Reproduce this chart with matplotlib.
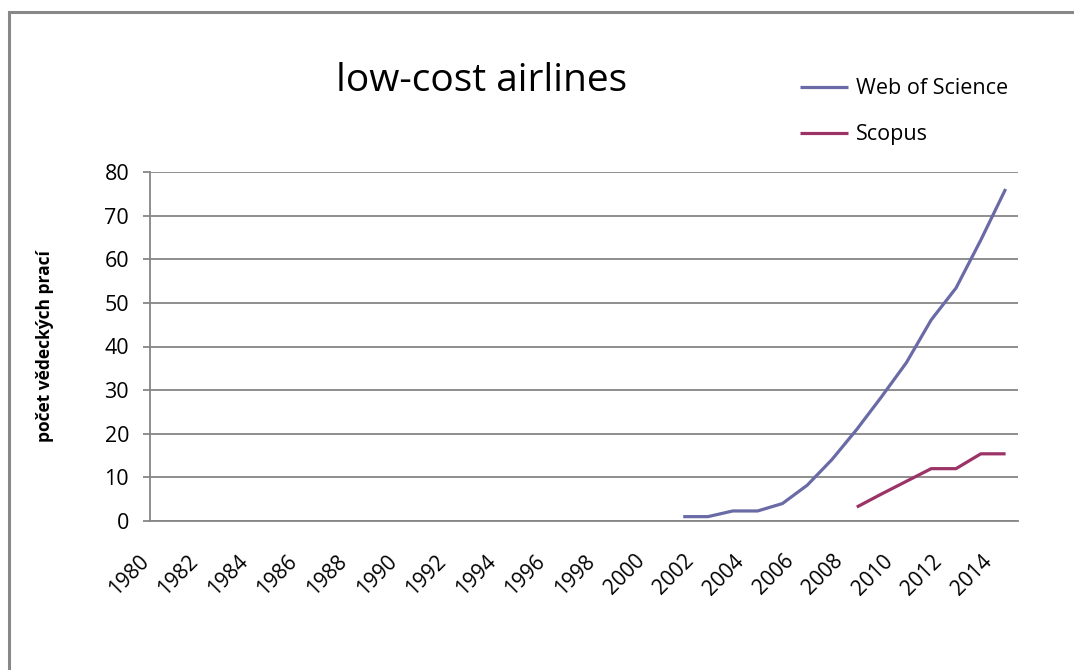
import matplotlib
matplotlib.use('Agg')
import matplotlib.pyplot as plt
import matplotlib.transforms as mtransforms
from matplotlib.patches import Rectangle
import numpy as np

plt.rcParams['font.family'] = ['Open Sans', 'DejaVu Sans']

# data
years = list(range(1980, 2015))
wos_years = list(range(2001, 2015))
wos = [1, 1, 2.3, 2.3, 4, 8.2, 14.1, 21, 28.5, 36.3, 46.1, 53.4, 64.4, 76.1]
scopus_years = list(range(2008, 2015))
scopus = [3.2, 6.2, 9.1, 12, 12, 15.4, 15.4]
tick_years = years[::2]

wos_col = '#6a6aa6'
sco_col = '#9b3366'
grid_col = '#868686'

fig = plt.figure(figsize=(10.74, 6.70), dpi=100)
fig.patches.append(Rectangle((9 / 1074, -0.1), 1.2, 0.1 + (670 - 12) / 670,
                             transform=fig.transFigure, fill=False,
                             edgecolor='#888888', linewidth=2.2))

ax = fig.add_axes([150 / 1074, (670 - 521) / 670, 868 / 1074, 349 / 670])
ax.plot(wos_years, wos, color=wos_col, lw=2.3, label='Web of Science', solid_capstyle='butt')
ax.plot(scopus_years, scopus, color=sco_col, lw=2.3, label='Scopus', solid_capstyle='butt')

ax.set_xlim(1979.5, 2014.5)
ax.set_ylim(0, 80)
ax.set_yticks(range(0, 81, 10))
ax.yaxis.grid(True, color=grid_col, lw=1.3)
ax.set_axisbelow(True)
for s in ['top', 'right']:
    ax.spines[s].set_visible(False)
for s in ['left', 'bottom']:
    ax.spines[s].set_color(grid_col)
    ax.spines[s].set_linewidth(1.3)
ax.tick_params(axis='y', length=5, width=1.3, color=grid_col, labelsize=15.5, pad=10)
ax.tick_params(axis='x', length=0, labelsize=15, pad=0)

ax.set_xticks(tick_years)
ax.set_xticklabels([str(y) for y in tick_years], rotation=45, ha='right', va='center',
                   rotation_mode='anchor')
offset = mtransforms.ScaledTranslation(-17 / 100, -37 / 100, fig.dpi_scale_trans)
for lab in ax.get_xticklabels():
    lab.set_transform(lab.get_transform() + offset)

ax.set_ylabel('počet vědeckých prací', fontsize=12.5, fontweight='bold', labelpad=36)

fig.text(482 / 1074, (670 - 81) / 670, 'low-cost airlines', fontsize=28, ha='center', va='center')

fig.legend(loc='upper left', bbox_to_anchor=(781 / 1074, (670 - 59) / 670), frameon=False,
           fontsize=15.5, handlelength=2.2, handletextpad=0.4, labelspacing=1.15)

fig.savefig('out.png', dpi=100)
